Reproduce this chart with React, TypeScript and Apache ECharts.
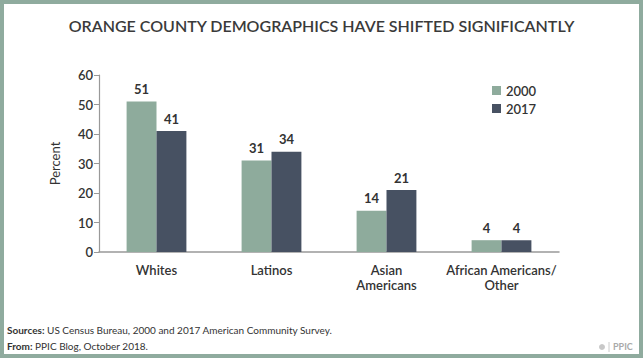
import React, { useEffect, useRef } from "react";
import * as echarts from "echarts";

const categories = ["Whites", "Latinos", "Asian\nAmericans", "African Americans/\nOther"];
const values2000 = [51, 31, 14, 4];
const values2017 = [41, 34, 21, 4];
const seriesNames = ["2000", "2017"];
const yTicks = [0, 10, 20, 30, 40, 50, 60];

const FONT = "Lato, 'Noto Sans', sans-serif";

export default function App() {
  const ref = useRef<HTMLDivElement>(null);
  useEffect(() => {
    document.body.style.margin = "0";
    const chart = echarts.init(ref.current!, undefined, { renderer: "svg" });
    const labelStyle = {
      show: true,
      position: "top" as const,
      distance: 6,
      color: "#333",
      fontSize: 13,
      fontWeight: 700 as const,
      fontFamily: FONT,
    };
    chart.setOption({
      animation: false,
      backgroundColor: "#fff",
      textStyle: { fontFamily: FONT },
      title: {
        text: "ORANGE COUNTY DEMOGRAPHICS HAVE SHIFTED SIGNIFICANTLY",
        left: "center",
        top: 12,
        textStyle: { fontSize: 16, fontWeight: 600, color: "#3a3a3a", fontFamily: FONT },
      },
      legend: {
        orient: "vertical",
        left: 487,
        top: 79,
        itemWidth: 9,
        itemHeight: 9,
        itemGap: 5,
        icon: "rect",
        data: seriesNames,
        textStyle: { fontSize: 13, fontWeight: 600, color: "#333", fontFamily: FONT },
      },
      grid: { left: 99, right: 84, top: 75, bottom: 106 },
      xAxis: {
        type: "category",
        data: categories,
        axisLine: { lineStyle: { color: "#999", width: 1.5 } },
        axisTick: { show: false },
        axisLabel: {
          color: "#333",
          fontSize: 13,
          fontWeight: 600,
          lineHeight: 15,
          margin: 10,
          interval: 0,
          fontFamily: FONT,
        },
      },
      yAxis: {
        type: "value",
        min: yTicks[0],
        max: yTicks[yTicks.length - 1],
        interval: 10,
        name: "Percent",
        nameLocation: "middle",
        nameGap: 38,
        nameTextStyle: { fontSize: 13, color: "#333", fontFamily: FONT },
        splitLine: { show: false },
        axisLine: { show: true, lineStyle: { color: "#999", width: 1.2 } },
        axisTick: { show: true, length: 5, lineStyle: { color: "#999" } },
        axisLabel: { color: "#333", fontSize: 13, fontWeight: 600, margin: 6, fontFamily: FONT },
      },
      series: [
        {
          name: seriesNames[0],
          type: "bar",
          data: values2000,
          barGap: "0%",
          barCategoryGap: "48%",
          itemStyle: { color: "#8eab9c" },
          label: labelStyle,
        },
        {
          name: seriesNames[1],
          type: "bar",
          data: values2017,
          itemStyle: { color: "#475162" },
          label: labelStyle,
        },
      ],
      graphic: [
        {
          type: "rect",
          shape: { x: 2, y: 2, width: 639, height: 354 },
          style: { fill: "none", stroke: "#8fab9e", lineWidth: 4 },
          silent: true,
        },
        {
          type: "text",
          left: 7,
          top: 325,
          style: {
            text: "{b|Sources:} US Census Bureau, 2000 and 2017 American Community Survey.",
            rich: { b: { fontWeight: 700, fontSize: 10, fill: "#333", fontFamily: FONT } },
            fontSize: 10,
            fill: "#333",
            fontFamily: FONT,
          },
        },
        {
          type: "text",
          left: 7,
          top: 341,
          style: {
            text: "{b|From:} PPIC Blog, October 2018.",
            rich: { b: { fontWeight: 700, fontSize: 10, fill: "#333", fontFamily: FONT } },
            fontSize: 10,
            fill: "#333",
            fontFamily: FONT,
          },
        },
        {
          type: "circle",
          shape: { cx: 602, cy: 347, r: 3 },
          style: { fill: "#c8c8c8" },
        },
        {
          type: "line",
          shape: { x1: 609, y1: 342, x2: 609, y2: 352 },
          style: { stroke: "#ccc", lineWidth: 1 },
        },
        {
          type: "text",
          left: 613,
          top: 342,
          style: { text: "PPIC", fontSize: 9, fontWeight: 700, fill: "#aaa", fontFamily: FONT },
        },
      ],
    });
    return () => chart.dispose();
  }, []);
  return <div ref={ref} style={{ position: "absolute", left: 0, top: 0, width: 643, height: 358 }} />;
}
